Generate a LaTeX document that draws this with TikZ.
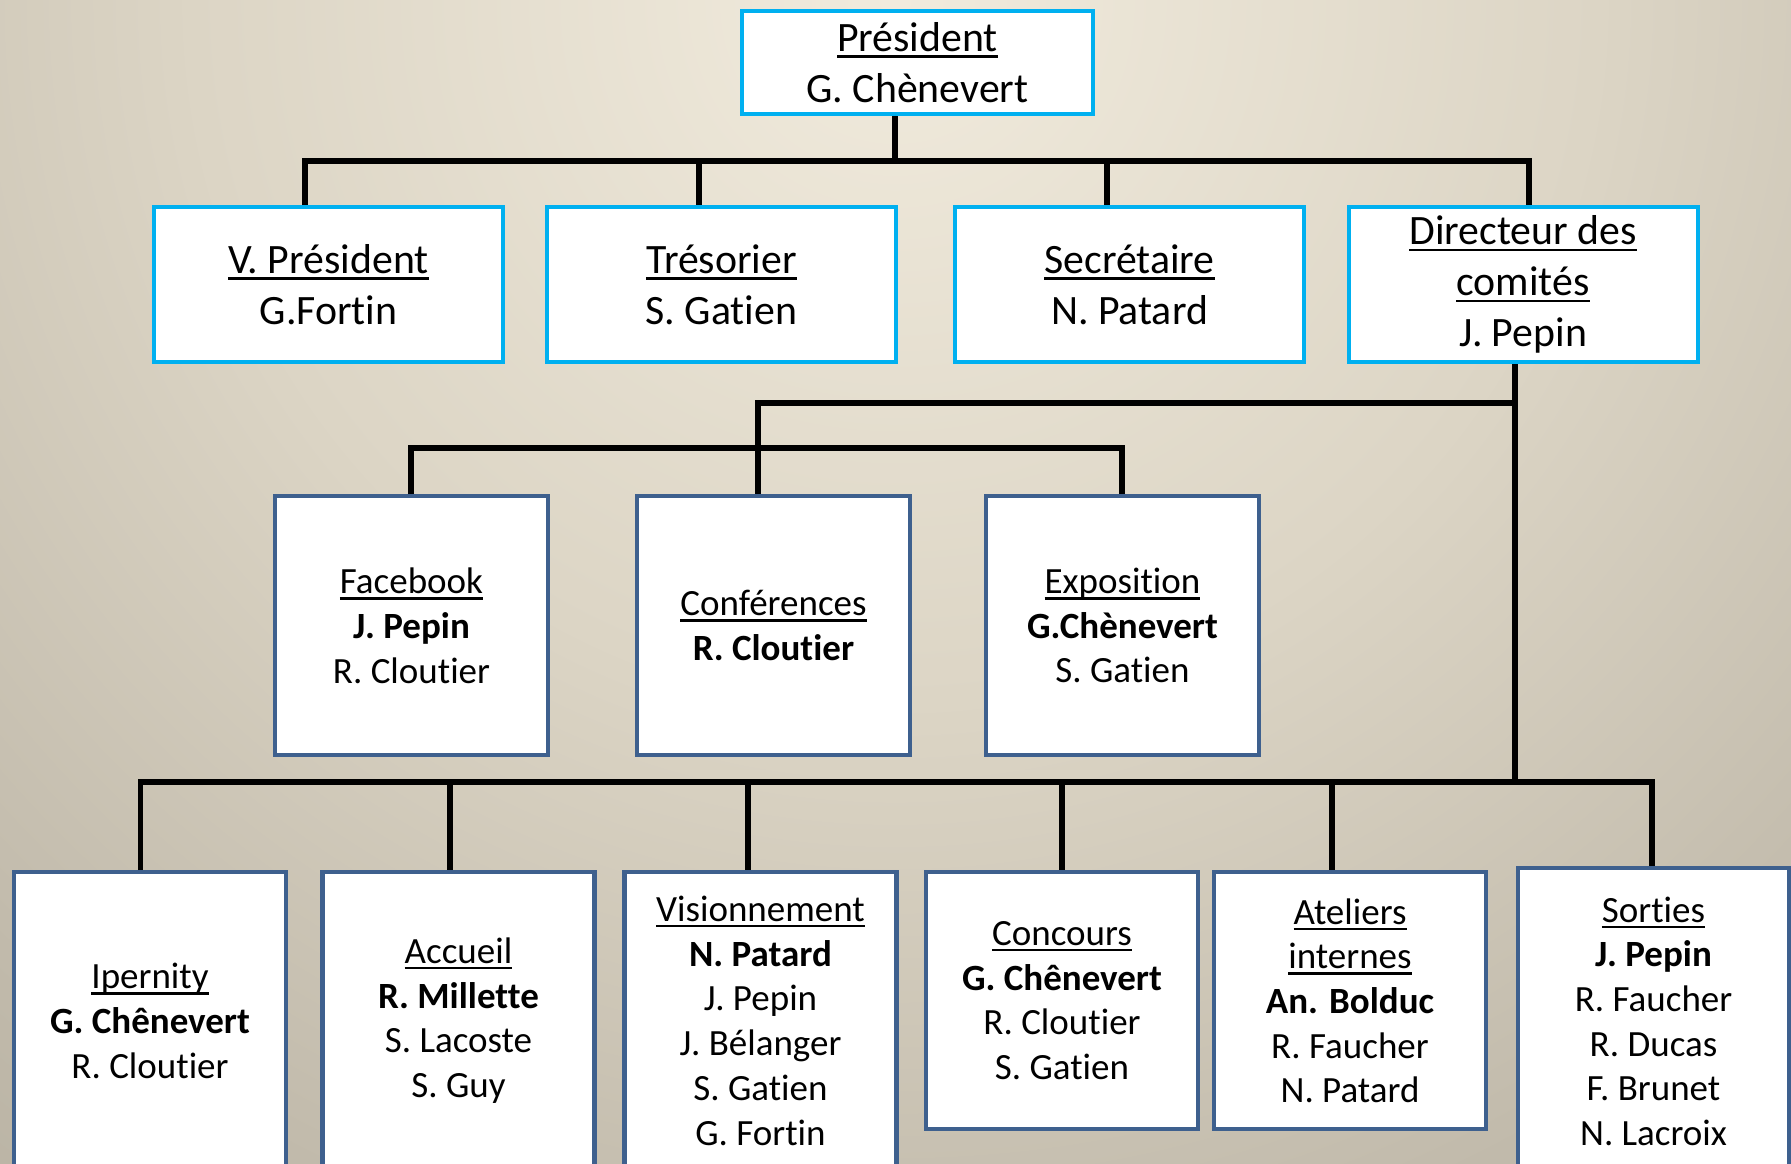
\documentclass[tikz,border=0pt]{standalone}
\usepackage{fontspec}
\setmainfont{Carlito}[Ligatures=NoCommon]
\usetikzlibrary{calc}

\definecolor{bgA}{RGB}{241,235,221}
\definecolor{bgB}{RGB}{220,213,197}
\definecolor{bgC}{RGB}{193,186,171}
\definecolor{bgD}{RGB}{177,171,156}
\definecolor{bgE}{RGB}{159,153,137}
\definecolor{bgF}{RGB}{140,134,118}
\definecolor{cadrecyan}{RGB}{0,176,240}
\definecolor{cadrebleu}{RGB}{62,96,142}

\pgfdeclareradialshading{fondglow}{\pgfpoint{0bp}{0bp}}{color(0bp)=(bgA); color(11.7bp)=(bgB); color(21.7bp)=(bgC); color(30bp)=(bgD); color(36.7bp)=(bgE); color(46.7bp)=(bgF); color(50bp)=(bgF)}

\newsavebox\soulbox
\newcommand\souligne[1]{\sbox\soulbox{#1}\rlap{\raisebox{-0.16em}{\rule{\wd\soulbox}{0.065em}}}\usebox\soulbox}

\begin{document}
\begin{tikzpicture}[x=1pt, y=-1pt,
  topbox/.style={draw=cadrecyan, line width=4pt, fill=white, anchor=north, align=center, inner sep=0pt,
    minimum width=349pt, minimum height=155pt, font=\fontsize{41.8}{51}\selectfont},
  subbox/.style={draw=cadrebleu, line width=4.4pt, fill=white, anchor=north, align=center, inner sep=0pt,
    minimum width=273pt, minimum height=259pt, font=\fontsize{37}{44.7}\selectfont},
  link/.style={line width=5.2pt, black}]
\useasboundingbox (0,0) rectangle (1791,1163);
\clip (0,0) rectangle (1791,1163);
\shade[shading=fondglow] (895,0) circle[radius=1500pt];

% Specification of nodes (position, etc.)
\node (president)	[topbox, minimum width=351pt, minimum height=103pt]	at (917.5,9)	{\souligne{Président}\\G. Chènevert};

\node (vpres)		[topbox]	at (328.5,205)	{\souligne{V. Président}\\G.Fortin};
\node (tresorier)	[topbox]	at (721.5,205)	{\souligne{Trésorier}\\S. Gatien};
\node (secretaire)	[topbox]	at (1129.5,205)	{\souligne{Secrétaire}\\N. Patard};
\node (directeur)	[topbox]	at (1523,205)	{\souligne{Directeur des}\\\souligne{comités}\\J. Pepin};

\node (facebook)	[subbox]	at (411.5,494)	{\souligne{Facebook}\\\textbf{J. Pepin}\\R. Cloutier};
\node (conferences)	[subbox]	at (773.5,494)	{\souligne{Conférences}\\\textbf{R. Cloutier}};
\node (exposition)	[subbox]	at (1122.5,494)	{\souligne{Exposition}\\\textbf{G.Chènevert}\\S. Gatien};

\node (ipernity)	[subbox, minimum width=272pt, minimum height=297pt]	at (150,870)	{\souligne{Ipernity}\\\textbf{G. Chênevert}\\R. Cloutier};
\node (accueil)		[subbox, minimum width=272pt, minimum height=297pt]	at (458.5,870)	{\souligne{Accueil}\\\textbf{R. Millette}\\S. Lacoste\\S. Guy};
\node (visionnement)	[subbox, minimum width=272pt, minimum height=297pt]	at (760.5,870)	{\souligne{Visionnement}\\\textbf{N. Patard}\\J. Pepin\\J. Bélanger\\S. Gatien\\G. Fortin};
\node (concours)	[subbox, minimum width=272pt, minimum height=257pt]	at (1062,870)	{\souligne{Concours}\\\textbf{G. Chênevert}\\R. Cloutier\\S. Gatien};
\node (ateliers)	[subbox, minimum width=272pt, minimum height=257pt]	at (1350,870)	{\souligne{Ateliers}\\\souligne{internes}\\\textbf{An. Bolduc}\\R. Faucher\\N. Patard};
\node (sorties)		[subbox, minimum width=271pt, minimum height=306pt]	at (1653.5,866)	{\souligne{Sorties}\\\textbf{J. Pepin}\\R. Faucher\\R. Ducas\\F. Brunet\\N. Lacroix};

% junctions of the connectors
\coordinate (t0) at (895,161);
\coordinate (t1) at (305,161);
\coordinate (t2) at (699,161);
\coordinate (t3) at (1107,161);
\coordinate (t4) at (1529,161);
\coordinate (d1) at (1515,403);
\coordinate (d2) at (758,403);
\coordinate (d3) at (411,448);
\coordinate (d4) at (1122,448);
\coordinate (b0) at (1515,782);
\coordinate (b1) at (140.5,782);
\coordinate (b2) at (450,782);
\coordinate (b3) at (748,782);
\coordinate (b4) at (1062,782);
\coordinate (b5) at (1332,782);
\coordinate (b6) at (1652,782);

\draw[link]	(president.south -| t0) -- (t0);
\draw[link]	(vpres.north -| t1) -- (t1) -- (t4) -- (directeur.north -| t4);
\draw[link]	(t2) -- (tresorier.north -| t2);
\draw[link]	(t3) -- (secretaire.north -| t3);

\draw[link]	(directeur.south -| d1) -- (b0);
\draw[link]	(d1) -- (d2) -- (conferences.north -| d2);
\draw[link]	(facebook.north -| d3) -- (d3) -- (d4) -- (exposition.north -| d4);

\draw[link]	(ipernity.north -| b1) -- (b1) -- (b6) -- (sorties.north -| b6);
\draw[link]	(b2) -- (accueil.north -| b2);
\draw[link]	(b3) -- (visionnement.north -| b3);
\draw[link]	(b4) -- (concours.north -| b4);
\draw[link]	(b5) -- (ateliers.north -| b5);

\end{tikzpicture}
\end{document}
